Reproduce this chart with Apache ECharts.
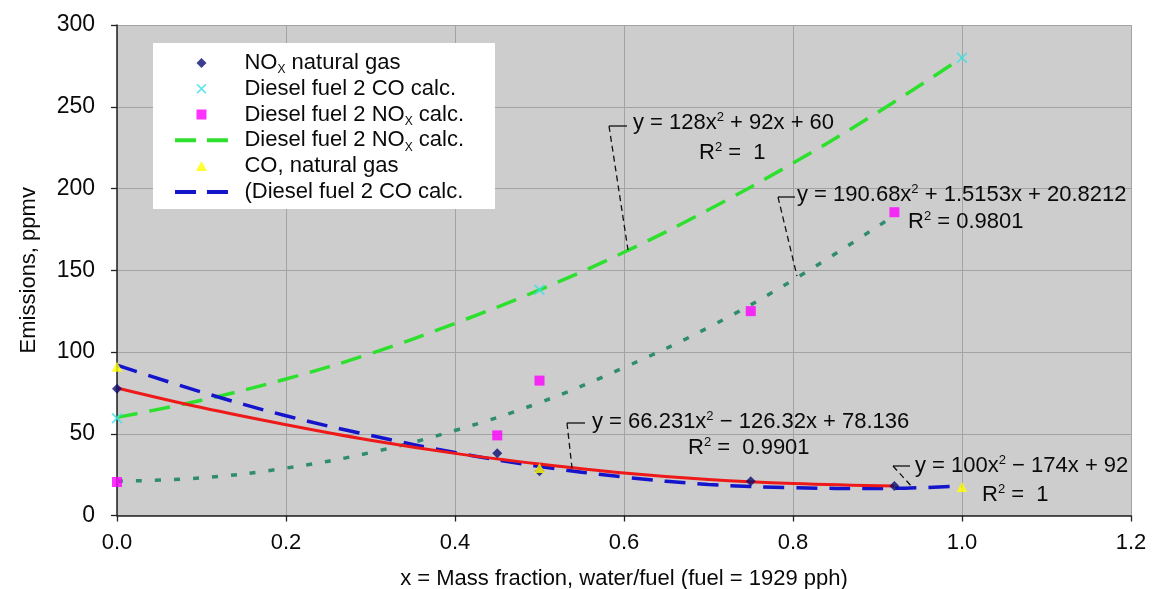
<!DOCTYPE html>
<html><head><meta charset="utf-8">
<script src="https://cdn.jsdelivr.net/npm/echarts@6/dist/echarts.min.js"></script>
<style>html,body{margin:0;padding:0;background:#fff}#c{width:1154px;height:589px}</style>
</head><body><div id="c"></div>
<script>
// ---- data ----
const noxGasX = [0, 0.45, 0.5, 0.75, 0.92];
const noxGasY = [77.5, 38, 27, 21, 18];
const coGasX = [0, 0.5, 1.0];
const coGasY = [91, 29, 17.5];
const dieselCoX = [0, 0.5, 1.0];
const dieselCoY = [59.5, 138, 280];
const dieselNoxX = [0, 0.45, 0.5, 0.75, 0.92];
const dieselNoxY = [20.5, 49, 82.5, 125, 185.5];
// trend curves at sample x positions
const fitX1 = [0, 0.1, 0.2, 0.3, 0.4, 0.5, 0.6, 0.7, 0.8, 0.9, 1.0];
const greenFitY = [60, 70.5, 83.5, 99, 117.5, 138, 161, 187, 215.5, 246.5, 280];
const blueFitY = [92, 75.5, 61, 49, 38.5, 30, 23.5, 19, 17, 16.5, 18];
const fitX2 = [0, 0.1, 0.2, 0.3, 0.4, 0.5, 0.6, 0.7, 0.8, 0.92];
const redFitY = [78, 66, 55.5, 46, 38, 31.5, 26, 22, 19.5, 18];
const tealFitY = [21, 23, 29, 38.5, 52, 69, 90.5, 115, 144, 183.5];
const xTicks = [0, 0.2, 0.4, 0.6, 0.8, 1.0, 1.2];
const yTicks = [0, 50, 100, 150, 200, 250, 300];

const legendNames = ['NOx natural gas', 'Diesel fuel 2 CO calc.', 'Diesel fuel 2 NOx calc.',
  'Diesel fuel 2 NOx calc. fit', 'CO, natural gas', '(Diesel fuel 2 CO calc.'];
const legendLabels = ['NO{sub|X} natural gas', 'Diesel fuel 2 CO calc.', 'Diesel fuel 2 NO{sub|X} calc.',
  'Diesel fuel 2 NO{sub|X} calc.', 'CO, natural gas', '(Diesel fuel 2 CO calc.'];

const FONT = '"Liberation Sans", Arial, Helvetica, sans-serif';
const pairs = (xs, ys) => xs.map((x, i) => [x, ys[i]]);

const ICON_DIAMOND = 'path://M5,0L10,5L5,10L0,5Z';
const ICON_CROSS = 'path://M0,1.2L1.2,0L5,3.8L8.8,0L10,1.2L6.2,5L10,8.8L8.8,10L5,6.2L1.2,10L0,8.8L3.8,5Z';
const ICON_SQUARE = 'path://M0,0h10v10h-10z';
const ICON_TRI = 'path://M5,0L10,9L0,9Z';
const ICON_DASH = 'path://M0,3h21v4h-21z M32,3h21v4h-21z M0,0h0.01v0.01h-0.01z M0,10h0.01v0.01h-0.01z';

const chart = echarts.init(document.getElementById('c'), null, {renderer: 'canvas'});

const TXT = '#0a0a0a';
const eqStyle = (txt, x, y) => ({
  type: 'text', z: 100,
  style: {
    text: txt, x: x, y: y, verticalAlign: 'middle', align: 'left',
    fontSize: 22, fontFamily: FONT, fill: TXT, lineHeight: 24,
    rich: { sup: { fontSize: 13, lineHeight: 12, verticalAlign: 'top', fontFamily: FONT, fill: TXT } }
  }
});
const leader = (pts) => ({
  type: 'polyline', z: 100,
  shape: { points: pts },
  style: { stroke: '#111', lineWidth: 1.3, lineDash: [6, 4], fill: null }
});
const tick = (x1, y1, x2, y2) => ({
  type: 'line', z: 100,
  shape: { x1, y1, x2, y2 },
  style: { stroke: '#111', lineWidth: 1.3 }
});

const option = {
  animation: false,
  backgroundColor: '#ffffff',
  grid: { left: 117, right: 23, top: 25, bottom: 73.5, outerBoundsMode: 'none', containLabel: false,
    show: true, backgroundColor: '#cdcdcd', borderWidth: 0 },
  xAxis: {
    type: 'value', min: 0, max: 1.2, interval: 0.2,
    name: 'x = Mass fraction, water/fuel (fuel = 1929 pph)',
    nameLocation: 'middle', nameGap: 52,
    nameTextStyle: { fontSize: 22, fontFamily: FONT, color: TXT },
    axisLine: { show: true, lineStyle: { color: '#222', width: 1.5 } },
    axisTick: { show: true, length: 6, lineStyle: { color: '#222', width: 1.3 } },
    axisLabel: { fontSize: 22, fontFamily: FONT, color: TXT, margin: 16,
      formatter: v => v.toFixed(1) },
    splitLine: { show: true, lineStyle: { color: '#a3a3a3', width: 1 } }
  },
  yAxis: {
    type: 'value', min: 0, max: 300, interval: 50,
    name: 'Emissions, ppmv',
    nameLocation: 'middle', nameGap: 77, nameRotate: 90,
    nameTextStyle: { fontSize: 22, fontFamily: FONT, color: TXT },
    axisLine: { show: true, lineStyle: { color: '#222', width: 1.5 } },
    axisTick: { show: true, length: 6, lineStyle: { color: '#222', width: 1.3 } },
    axisLabel: { fontSize: 23, fontFamily: FONT, color: TXT, margin: 22 },
    splitLine: { show: true, lineStyle: { color: '#a3a3a3', width: 1 } }
  },
  legend: {
    orient: 'vertical', left: 175, top: 50,
    backgroundColor: 'transparent', borderWidth: 0,
    padding: 0,
    itemWidth: 76, itemHeight: 10, itemGap: 0,
    symbolKeepAspect: true,
    data: [
      { name: legendNames[0], icon: ICON_DIAMOND },
      { name: legendNames[1], icon: ICON_CROSS },
      { name: legendNames[2], icon: ICON_SQUARE },
      { name: legendNames[3], icon: ICON_DASH },
      { name: legendNames[4], icon: ICON_TRI },
      { name: legendNames[5], icon: ICON_DASH }
    ],
    formatter: name => legendLabels[legendNames.indexOf(name)],
    textStyle: {
      fontSize: 22, fontFamily: FONT, color: TXT, lineHeight: 25.8,
      rich: { sub: { fontSize: 12, lineHeight: 10, verticalAlign: 'bottom', fontFamily: FONT, color: TXT } }
    }
  },
  series: [
    { name: 'teal fit', type: 'line', data: pairs(fitX2, tealFitY), smooth: 0.4, symbol: 'none',
      color: '#2f8c70', lineStyle: { color: '#2f8c70', width: 3.5, type: [6, 13] }, z: 2 },
    { name: legendNames[3], type: 'line', data: pairs(fitX1, greenFitY), smooth: 0.4, symbol: 'none',
      color: '#2ee02e', lineStyle: { color: '#2ee02e', width: 3.5, type: [21, 12] }, z: 2 },
    { name: legendNames[5], type: 'line', data: pairs(fitX1, blueFitY), smooth: 0.4, symbol: 'none',
      color: '#1414cc', lineStyle: { color: '#1414cc', width: 3.5, type: [21, 12] }, z: 2 },
    { name: 'red fit', type: 'line', data: pairs(fitX2, redFitY), smooth: 0.4, symbol: 'none',
      color: '#ee1a1a', lineStyle: { color: '#ee1a1a', width: 3 }, z: 3 },
    { name: legendNames[2], type: 'scatter', data: pairs(dieselNoxX, dieselNoxY), symbol: ICON_SQUARE,
      symbolSize: 10, color: '#ff00ff', clip: false, z: 5 },
    { name: legendNames[1], type: 'scatter', data: pairs(dieselCoX, dieselCoY), symbol: ICON_CROSS,
      symbolSize: 11, color: '#3ee0e8', clip: false, z: 5 },
    { name: legendNames[0], type: 'scatter', data: pairs(noxGasX, noxGasY), symbol: ICON_DIAMOND,
      symbolSize: 10, color: '#0c0c70', clip: false, z: 5 },
    { name: legendNames[4], type: 'scatter', data: pairs(coGasX, coGasY), symbol: ICON_TRI,
      symbolSize: [11, 10], color: '#ffff00', clip: false, z: 6 }
  ],
  graphic: [
    { type: 'rect', z: 3, shape: { x: 153, y: 43, width: 342, height: 166 }, style: { fill: '#ffffff' } },

    eqStyle('y = 128x{sup|2} + 92x + 60', 633, 123),
    eqStyle('R{sup|2} =  1', 699, 153),
    tick(609, 126, 627, 126),
    leader([[609, 126], [628, 250]]),

    eqStyle('y = 190.68x{sup|2} + 1.5153x + 20.8212', 797, 195),
    eqStyle('R{sup|2} = 0.9801', 908, 222),
    tick(778, 197, 795, 197),
    leader([[778, 197], [797, 276]]),

    eqStyle('y = 66.231x{sup|2} \u2212 126.32x + 78.136', 592, 422),
    eqStyle('R{sup|2} =  0.9901', 688, 448),
    tick(567, 423, 585, 423),
    leader([[567, 423], [572, 468]]),

    eqStyle('y = 100x{sup|2} \u2212 174x + 92', 915, 466),
    eqStyle('R{sup|2} =  1', 982, 495),
    tick(893, 466, 910, 466),
    leader([[893, 466], [913, 488]])
  ]
};
chart.setOption(option);
</script>
</body></html>
